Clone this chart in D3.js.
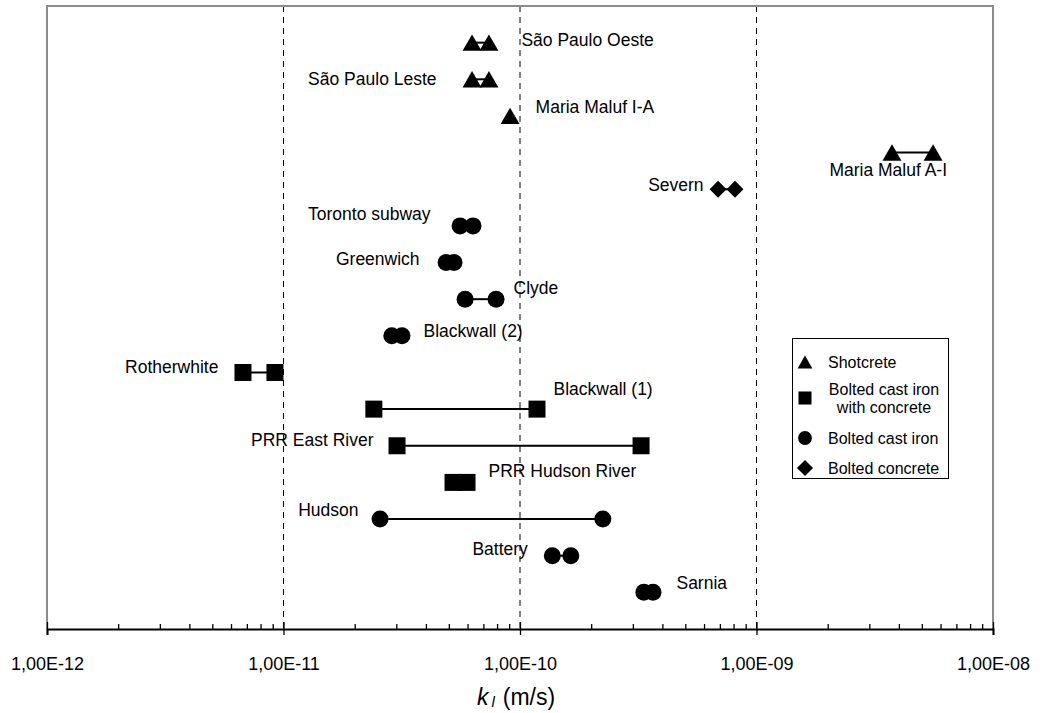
<!DOCTYPE html>
<html>
<head>
<meta charset="utf-8">
<script src="https://cdn.jsdelivr.net/npm/d3@7"></script>
<style>
  body { margin: 0; background: #fff; }
  text { font-family: "Liberation Sans", Arial, sans-serif; fill: #000; }
</style>
</head>
<body>
<svg id="chart" width="1040" height="713"></svg>
<script>
// tunnels, top to bottom
var sites = ["São Paulo Oeste", "São Paulo Leste", "Maria Maluf I-A", "Maria Maluf A-I",
  "Severn", "Toronto subway", "Greenwich", "Clyde", "Blackwall (2)", "Rotherwhite",
  "Blackwall (1)", "PRR East River", "PRR Hudson River", "Hudson", "Battery", "Sarnia"];
var lining = ["shot", "shot", "shot", "shot", "conc", "iron", "iron", "iron", "iron", "ironconc",
  "ironconc", "ironconc", "ironconc", "iron", "iron", "iron"];
var kMin = [6.27e-11, 6.27e-11, 9.08e-11, 3.74e-9, 6.88e-10, 5.58e-11, 4.87e-11, 5.86e-11,
  2.87e-11, 6.74e-12, 2.41e-11, 3.02e-11, 5.21e-11, 2.56e-11, 1.37e-10, 3.34e-10];
var kMax = [7.39e-11, 7.39e-11, 9.08e-11, 5.58e-9, 8.11e-10, 6.33e-11, 5.26e-11, 7.92e-11,
  3.17e-11, 9.2e-12, 1.18e-10, 3.25e-10, 5.97e-11, 2.24e-10, 1.64e-10, 3.65e-10];

var majorTicks = [1e-12, 1e-11, 1e-10, 1e-9, 1e-8];
var gridTicks = [1e-11, 1e-10, 1e-9];

var legendTypes = ["shot", "ironconc", "iron", "conc"];
var legendNames = [["Shotcrete"], ["Bolted cast iron", "with concrete"], ["Bolted cast iron"], ["Bolted concrete"]];

// where each label sits next to its markers: side, gap from marker edge, vertical shift
var labelPlace = {
  "São Paulo Oeste": ["right", 23, -3],
  "São Paulo Leste": ["left", 26, 0],
  "Maria Maluf I-A": ["right", 16, -9],
  "Maria Maluf A-I": ["below", 14, 17],
  "Severn": ["left", 6, -4],
  "Toronto subway": ["left", 21, -12],
  "Greenwich": ["left", 18, -4],
  "Clyde": ["right", 9, -11],
  "Blackwall (2)": ["right", 13, -5],
  "Rotherwhite": ["left", 16, -6],
  "Blackwall (1)": ["right", 8, -20],
  "PRR East River": ["left", 15, -6],
  "PRR Hudson River": ["right", 13, -12],
  "Hudson": ["left", 13, -9],
  "Battery": ["left", 16, -7],
  "Sarnia": ["right", 15, -9]
};

var margin = {top: 6, left: 47, right: 47, bottom: 84};
var width = 1040, height = 713;
var svg = d3.select("#chart");

var x = d3.scaleLog()
  .domain([1e-12, 1e-8])
  .range([margin.left, width - margin.right]);
var y = d3.scaleLinear()
  .domain([0, 17])
  .range([margin.top, height - margin.bottom]);

var yBottom = height - margin.bottom;

// marker shapes
var sym = {
  shot: d3.symbol().type(d3.symbolTriangle).size(156),
  ironconc: d3.symbol().type(d3.symbolSquare).size(289),
  iron: d3.symbol().type(d3.symbolCircle).size(227),
  conc: d3.symbol().type(d3.symbolSquare).size(144)
};
var legSym = {
  shot: d3.symbol().type(d3.symbolTriangle).size(95),
  ironconc: d3.symbol().type(d3.symbolSquare).size(170),
  iron: d3.symbol().type(d3.symbolCircle).size(150),
  conc: d3.symbol().type(d3.symbolSquare).size(130)
};
function halfWidth(t) { return t == "shot" ? 9.5 : 8.5; }
function markerTransform(t, cx, cy, scale) {
  if (t == "shot") return "translate(" + cx + "," + (cy + 2.7 * (scale || 1)) + ")";
  if (t == "conc") return "translate(" + cx + "," + cy + ") rotate(45)";
  return "translate(" + cx + "," + cy + ")";
}

// dashed gridlines
svg.append("g").selectAll("line")
  .data(gridTicks)
  .enter().append("line")
  .attr("x1", function(d) { return x(d); })
  .attr("x2", function(d) { return x(d); })
  .attr("y1", margin.top)
  .attr("y2", yBottom)
  .attr("stroke", "#000")
  .attr("stroke-width", 1)
  .attr("stroke-dasharray", "6,5");

// plot frame (top, left, right)
svg.append("path")
  .attr("d", "M" + x(1e-12) + "," + yBottom + "V" + margin.top + "H" + x(1e-8) + "V" + yBottom)
  .attr("fill", "none")
  .attr("stroke", "#8c8c8c")
  .attr("stroke-width", 2);

// minor ticks
var minorTicks = [];
majorTicks.slice(0, -1).forEach(function(m) {
  for (var i = 2; i <= 9; i++) minorTicks.push(m * i);
});
svg.append("g")
  .attr("transform", "translate(0," + yBottom + ")")
  .call(d3.axisBottom(x).tickValues(minorTicks).tickSize(-5).tickFormat(""))
  .call(function(g) { g.select(".domain").remove(); })
  .selectAll("line").attr("stroke", "#000").attr("stroke-width", 1.3);

function sciLabel(d) {
  var e = Math.round(Math.log10(d));
  return "1,00E" + (e < 0 ? "-" : "+") + (Math.abs(e) < 10 ? "0" : "") + Math.abs(e);
}

var xAxis = svg.append("g")
  .attr("transform", "translate(0," + yBottom + ")")
  .call(d3.axisBottom(x).tickValues(majorTicks).tickSizeOuter(0).tickSize(6).tickPadding(22).tickFormat(sciLabel));
xAxis.select(".domain").attr("stroke", "#000").attr("stroke-width", 2);
xAxis.selectAll(".tick line").attr("y1", -7).attr("stroke", "#000").attr("stroke-width", 1.3);
xAxis.selectAll(".tick text")
  .style("font-family", "'Liberation Sans', Arial, sans-serif")
  .style("font-size", "18px")
  .attr("fill", "#000");

// axis title k_l (m/s)
var title = svg.append("text")
  .attr("x", (x(1e-12) + x(1e-8)) / 2 - 4)
  .attr("y", 705)
  .attr("text-anchor", "middle")
  .style("font-size", "23px");
title.append("tspan").style("font-style", "italic").text("k");
title.append("tspan").style("font-style", "italic").style("font-size", "15px").attr("dy", 2).attr("dx", 3).text("l");
title.append("tspan").attr("dy", -2).attr("dx", 8).text("(m/s)");

// range lines and markers
var rows = sites.map(function(s, i) {
  return {name: s, type: lining[i], lo: kMin[i], hi: kMax[i], row: i + 1};
});

svg.append("g").selectAll("line")
  .data(rows.filter(function(d) { return d.hi > d.lo; }))
  .enter().append("line")
  .attr("x1", function(d) { return x(d.lo); })
  .attr("x2", function(d) { return x(d.hi); })
  .attr("y1", function(d) { return y(d.row); })
  .attr("y2", function(d) { return y(d.row); })
  .attr("stroke", "#000")
  .attr("stroke-width", 2);

var pts = [];
rows.forEach(function(d) {
  pts.push({type: d.type, k: d.lo, row: d.row});
  if (d.hi > d.lo) pts.push({type: d.type, k: d.hi, row: d.row});
});

svg.append("g").selectAll("path")
  .data(pts)
  .enter().append("path")
  .attr("d", function(d) { return sym[d.type](); })
  .attr("transform", function(d) { return markerTransform(d.type, x(d.k), y(d.row)); })
  .attr("fill", "#000");

// labels
svg.append("g").selectAll("text")
  .data(rows)
  .enter().append("text")
  .style("font-size", "17.5px")
  .attr("dy", "0.35em")
  .attr("text-anchor", function(d) { return labelPlace[d.name][0] == "right" ? "start" : "end"; })
  .attr("x", function(d) {
    var p = labelPlace[d.name], hw = halfWidth(d.type);
    if (p[0] == "left") return x(d.lo) - hw - p[1];
    if (p[0] == "right") return x(d.hi) + hw + p[1];
    return x(d.hi) + p[1];
  })
  .attr("y", function(d) { return y(d.row) + labelPlace[d.name][2]; })
  .text(function(d) { return d.name; });

// legend
var leg = svg.append("g").attr("transform", "translate(792,338)");
leg.append("rect")
  .attr("x", 0.5).attr("y", 0.5)
  .attr("width", 156).attr("height", 140)
  .attr("fill", "#fff")
  .attr("stroke", "#000")
  .attr("stroke-width", 1);

var legY = d3.scalePoint().domain(legendTypes).range([24, 130]);
var legRowY = {shot: 24, ironconc: 60, iron: 100, conc: 130};

legendTypes.forEach(function(t, i) {
  var cy = legRowY[t];
  leg.append("path")
    .attr("d", legSym[t]())
    .attr("transform", markerTransform(t, 13, cy, 0.78))
    .attr("fill", "#000");
  var lines = legendNames[i];
  var txt = leg.append("text")
    .style("font-size", "16px")
    .attr("text-anchor", lines.length > 1 ? "middle" : "start")
    .attr("x", lines.length > 1 ? 92 : 36)
    .attr("y", cy - (lines.length - 1) * 9)
    .attr("dy", "0.35em");
  lines.forEach(function(l, j) {
    txt.append("tspan")
      .attr("x", lines.length > 1 ? 92 : 36)
      .attr("dy", j == 0 ? "0.35em" : "18px")
      .text(l);
  });
});
</script>
</body>
</html>
